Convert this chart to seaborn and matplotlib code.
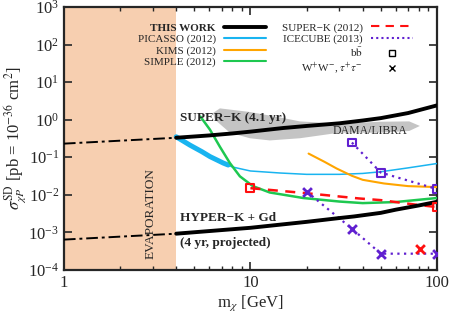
import matplotlib
matplotlib.use("Agg")
import matplotlib.pyplot as plt
import seaborn as sns
from matplotlib.lines import Line2D

# ---- data ----
sk_mass = [4, 6, 8, 10, 15, 20, 30, 40, 50, 70, 100]
sk_sigma = [0.33, 0.38, 0.43, 0.48, 0.60, 0.68, 0.80, 0.95, 1.1, 1.5, 2.4]
sk_ext_mass = [1, 4]
sk_ext_sigma = [0.23, 0.33]

hk_mass = [4, 10, 20, 30, 36, 50, 60, 80, 100]
hk_sigma = [9.2e-4, 1.32e-3, 1.9e-3, 2.4e-3, 2.65e-3, 3.3e-3, 4.0e-3, 5.2e-3, 6.5e-3]
hk_ext_mass = [1, 4]
hk_ext_sigma = [6.4e-4, 9.2e-4]

picasso_thick_mass = [4.0, 4.74, 5.5, 6.07, 7.15, 7.6]
picasso_thick_sigma = [0.35, 0.21, 0.14, 0.104, 0.07, 0.062]
picasso_mass = [7.6, 8, 10, 14.4, 20, 30, 40, 50, 70, 100]
picasso_sigma = [0.062, 0.055, 0.043, 0.038, 0.035, 0.035, 0.037, 0.041, 0.052, 0.068]

kims_mass = [20.5, 25, 29, 35, 40, 52, 70, 100]
kims_sigma = [0.125, 0.075, 0.05, 0.032, 0.025, 0.020, 0.017, 0.016]

simple_mass = [5.4, 6.07, 6.86, 7.76, 8.78, 10.3, 12.7, 19.2, 30, 40, 60, 100]
simple_sigma = [1.2, 0.54, 0.19, 0.07, 0.031, 0.017, 0.0115, 0.0082, 0.0066, 0.006, 0.0064, 0.0082]

sk2012_mass = [10, 20, 38, 50, 76, 100]
sk2012_sigma = [0.015, 0.011, 0.008, 0.0072, 0.0055, 0.0047]
sk2012_bb_mass = [10, 100]
sk2012_bb_sigma = [0.015, 0.0047]
sk2012_ww_mass = [81]
sk2012_ww_sigma = [3.5e-4]

ic_bb_mass = [35, 50, 100]
ic_bb_sigma = [0.246, 0.039, 0.0142]
ic_ww_mass = [20, 35, 50, 100]
ic_ww_sigma = [0.0122, 1.25e-3, 2.7e-4, 2.7e-4]

dama_mass = [6.3, 6.86, 9.94, 14.4, 18.4, 30, 49.5, 71, 81, 71, 49.5, 30, 18.4, 12.7, 9.94, 7.76, 6.45]
dama_sigma = [1.5, 2.0, 1.6, 1.15, 0.9, 0.78, 0.88, 0.9, 0.68, 0.5, 0.45, 0.45, 0.32, 0.28, 0.32, 0.45, 1.0]

evap_range = [1, 4]

# ---- style ----
sns.set_style("ticks")
plt.rcParams["font.family"] = ["Liberation Serif", "DejaVu Serif"]
plt.rcParams["mathtext.fontset"] = "stix"

c_blue = "#19b4f0"
c_orange = "#ffa500"
c_green = "#1ec850"
c_red = "#ff1010"
c_purple = "#6020d0"

fig, ax = plt.subplots(figsize=(4.5, 3.19), dpi=100)
fig.subplots_adjust(left=0.142, right=0.971, bottom=0.154, top=0.978)

ax.axvspan(*evap_range, color="#f7cfb0", lw=0, zorder=0)
ax.fill(dama_mass, dama_sigma, color="#c4c4c4", lw=0, zorder=1)

sns.lineplot(x=sk_mass, y=sk_sigma, ax=ax, color="black", lw=2.8, zorder=5)
sns.lineplot(x=sk_ext_mass, y=sk_ext_sigma, ax=ax, color="black", lw=1.4,
             zorder=5).lines[-1].set_dashes([6, 2, 1.5, 2])
sns.lineplot(x=hk_mass, y=hk_sigma, ax=ax, color="black", lw=2.8, zorder=5)
sns.lineplot(x=hk_ext_mass, y=hk_ext_sigma, ax=ax, color="black", lw=1.4,
             zorder=5).lines[-1].set_dashes([6, 2, 1.5, 2])

sns.lineplot(x=picasso_thick_mass, y=picasso_thick_sigma, ax=ax, color=c_blue, lw=3.6, zorder=3)
sns.lineplot(x=picasso_mass, y=picasso_sigma, ax=ax, color=c_blue, lw=1.1, zorder=3)
sns.lineplot(x=kims_mass, y=kims_sigma, ax=ax, color=c_orange, lw=1.5, zorder=3)
sns.lineplot(x=simple_mass, y=simple_sigma, ax=ax, color=c_green, lw=1.8, zorder=3)

sns.lineplot(x=sk2012_mass, y=sk2012_sigma, ax=ax, color=c_red, lw=1.8, zorder=4).lines[-1].set_dashes([4, 3])
sns.scatterplot(x=sk2012_bb_mass, y=sk2012_bb_sigma, ax=ax, marker="s", s=32,
                facecolor="none", edgecolor=c_red, linewidth=1.5, zorder=6)
sns.scatterplot(x=sk2012_ww_mass, y=sk2012_ww_sigma, ax=ax, marker="x", s=40,
                color=c_red, linewidth=2, zorder=6)

sns.lineplot(x=ic_bb_mass, y=ic_bb_sigma, ax=ax, color=c_purple, lw=1.6, zorder=4).lines[-1].set_dashes([1, 2])
sns.lineplot(x=ic_ww_mass, y=ic_ww_sigma, ax=ax, color=c_purple, lw=1.6, zorder=4).lines[-1].set_dashes([1, 2])
sns.scatterplot(x=ic_bb_mass, y=ic_bb_sigma, ax=ax, marker="s", s=32,
                facecolor="none", edgecolor=c_purple, linewidth=1.5, zorder=6)
sns.scatterplot(x=ic_ww_mass, y=ic_ww_sigma, ax=ax, marker="x", s=40,
                color=c_purple, linewidth=2, zorder=6)

ax.set_xscale("log")
ax.set_yscale("log")
ax.set_xlim(1, 100)
ax.set_ylim(1e-4, 1e3)
ax.set_xticks([1, 10, 100])
ax.set_xticklabels(["1", "10", "100"])
ax.set_yticks([10.0 ** k for k in range(-4, 4)])
ax.yaxis.set_minor_locator(matplotlib.ticker.NullLocator())
ax.tick_params(which="both", direction="in", top=True, right=True, labelsize=12)
ax.tick_params(which="major", length=6, width=1.2)
ax.tick_params(which="minor", length=3, width=1.0)
for s in ax.spines.values():
    s.set_linewidth(1.6)

ax.set_xlabel(r"m$_\chi$ [GeV]", fontsize=12, labelpad=2)
ax.set_ylabel(r"$\sigma^{\rm SD}_{\chi P}$ [pb = 10$^{-36}$ cm$^2$]", fontsize=12, labelpad=0)

# annotations
ax.text(4.2, 1.12, "SUPER\u2212K (4.1 yr)", fontsize=9.5, fontweight="bold", ha="left", va="center", zorder=7)
ax.text(4.2, 2.4e-3, "HYPER\u2212K + Gd", fontsize=9.5, fontweight="bold", ha="left", va="center", zorder=7)
ax.text(4.2, 5.3e-4, "(4 yr, projected)", fontsize=9.5, fontweight="bold", ha="left", va="center", zorder=7)
ax.text(27.7, 0.5, "DAMA/LIBRA", fontsize=8.5, ha="left", va="center", zorder=7)
ax.text(2.9, 3.1e-3, "EVAPORATION", fontsize=9.5, rotation=90, ha="center", va="center", zorder=7)

# legends (labels left of handles)
h1 = [Line2D([], [], color="black", lw=2.8),
      Line2D([], [], color=c_blue, lw=1.5),
      Line2D([], [], color=c_orange, lw=1.5),
      Line2D([], [], color=c_green, lw=1.5)]
l1 = ["THIS WORK", "PICASSO (2012)", "KIMS (2012)", "SIMPLE (2012)"]
h2 = [Line2D([], [], color=c_red, lw=1.5, ls=(0, (4, 3))),
      Line2D([], [], color=c_purple, lw=1.5, ls=(0, (1, 1.5))),
      Line2D([], [], color="black", lw=0, marker="s", mfc="none", ms=5, mew=1),
      Line2D([], [], color="black", lw=0, marker="x", ms=5, mew=1)]
l2 = ["SUPER\u2212K (2012)", "ICECUBE (2013)", r"b$\bar{\rm b}$", r"W$^{+}$W$^{-}$, $\tau^{+}\tau^{-}$"]

leg_kw = dict(frameon=False, markerfirst=False, fontsize=8, handlelength=3.8,
              handletextpad=0.7, labelspacing=0.12, borderaxespad=0)
leg1 = ax.legend(h1, l1, loc="upper right", bbox_to_anchor=(0.553, 0.955), **leg_kw)
leg1.get_texts()[0].set_fontweight("bold")
ax.add_artist(leg1)
leg2 = ax.legend(h2, l2, loc="upper right", bbox_to_anchor=(0.947, 0.958), **leg_kw)

fig.savefig("out.png", dpi=100)
